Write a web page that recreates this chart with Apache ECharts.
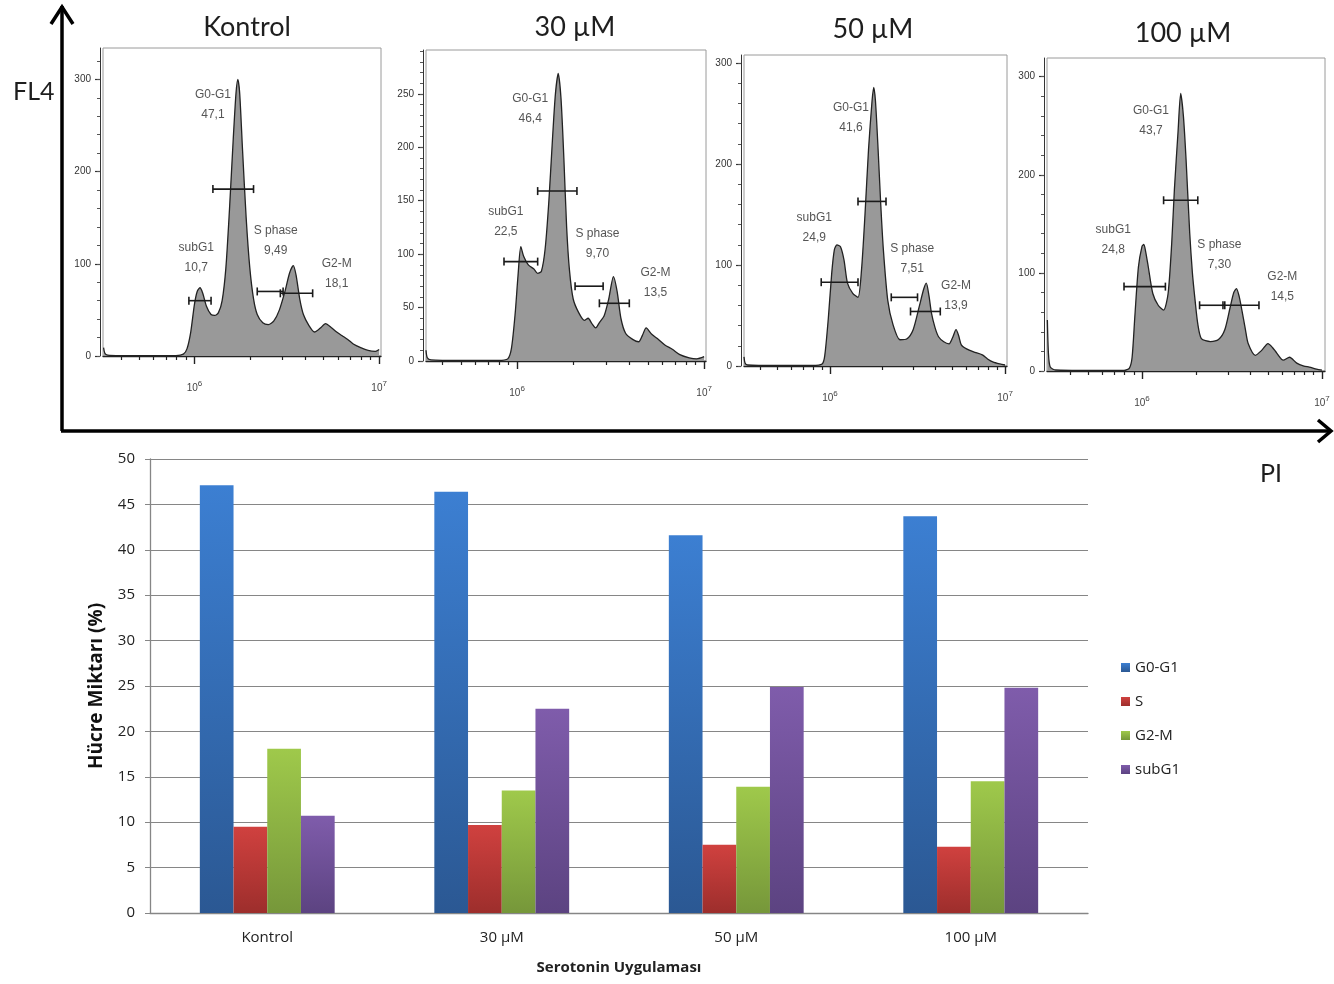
<!DOCTYPE html>
<html><head><meta charset="utf-8">
<script src="https://cdn.jsdelivr.net/npm/echarts@6.0.0/dist/echarts.min.js"></script>
<style>html,body{margin:0;padding:0;background:#fff}#c{width:1334px;height:984px}</style>
</head><body><div id="c"></div>
<script>
// ---------------- DATA ----------------
const panelTitles = ['Kontrol', '30 µM', '50 µM', '100 µM'];
const barCategories = ['Kontrol', '30 µM', '50 µM', '100 µM'];
const phaseNames = ['G0-G1', 'S', 'G2-M', 'subG1'];
const g0g1 = [47.1, 46.4, 41.6, 43.7];
const sPhase = [9.49, 9.70, 7.51, 7.30];
const g2m = [18.1, 13.5, 13.9, 14.5];
const subG1 = [10.7, 22.5, 24.9, 24.8];

// histogram curves: [log10(PI), count]
const histKontrol = [[5.508,9],[5.515,3],[5.53,1],[5.6,0.5],[5.75,0.5],[5.9,0.5],[5.94,2],[5.96,8],[5.98,26],[6.0,56],[6.015,70],[6.03,74],[6.045,68],[6.065,54],[6.09,45],[6.11,44],[6.13,47],[6.15,60],[6.17,95],[6.19,160],[6.21,235],[6.225,285],[6.235,300],[6.245,285],[6.26,225],[6.28,150],[6.30,95],[6.32,62],[6.34,45],[6.37,36],[6.40,34],[6.43,38],[6.46,50],[6.49,70],[6.515,90],[6.535,98],[6.55,88],[6.57,62],[6.59,45],[6.62,33],[6.65,26],[6.68,30],[6.71,35],[6.74,31],[6.77,26],[6.80,22],[6.83,18],[6.86,13],[6.90,9],[6.94,6],[6.98,5],[7.0,7]];
const hist30 = [[5.513,10],[5.52,3],[5.54,1],[5.7,0.5],[5.9,0.5],[5.95,2],[5.97,12],[5.99,45],[6.005,80],[6.02,107],[6.035,98],[6.06,90],[6.09,86],[6.11,82],[6.13,84],[6.15,105],[6.17,150],[6.19,210],[6.205,250],[6.22,269],[6.235,245],[6.25,190],[6.265,125],[6.28,85],[6.30,58],[6.33,45],[6.36,38],[6.38,40],[6.40,35],[6.42,31],[6.44,36],[6.465,42],[6.49,58],[6.515,79],[6.535,65],[6.555,40],[6.58,26],[6.62,20],[6.65,18],[6.67,24],[6.69,31],[6.72,25],[6.75,21],[6.79,15],[6.83,11],[6.87,6],[6.92,3],[6.96,2],[7.0,4]];
const hist50 = [[5.509,9],[5.515,3],[5.53,1],[5.7,0.5],[5.9,0.5],[5.955,2],[5.97,10],[5.99,46],[6.01,92],[6.025,115],[6.04,120],[6.06,118],[6.08,105],[6.1,82],[6.13,72],[6.16,68],[6.18,95],[6.20,150],[6.22,214],[6.24,262],[6.25,276],[6.26,262],[6.275,214],[6.29,160],[6.305,115],[6.33,65],[6.36,41],[6.40,26],[6.44,27],[6.475,36],[6.51,59],[6.535,76],[6.55,82],[6.565,70],[6.58,52],[6.60,38],[6.62,29],[6.65,24],[6.68,22],[6.70,28],[6.72,36],[6.735,30],[6.75,21],[6.78,17],[6.82,14],[6.87,11],[6.90,7],[6.93,4],[6.97,2],[7.0,1]];
const hist100 = [[5.474,52],[5.48,18],[5.49,4],[5.52,1],[5.7,0.5],[5.9,0.5],[5.93,3],[5.945,14],[5.96,55],[5.98,106],[6.0,127],[6.01,129],[6.02,122],[6.035,106],[6.06,79],[6.09,67],[6.12,62],[6.145,79],[6.165,130],[6.18,185],[6.20,243],[6.215,283],[6.23,260],[6.245,215],[6.265,141],[6.28,100],[6.295,72],[6.31,48],[6.33,33],[6.38,30],[6.425,32],[6.46,42],[6.49,65],[6.51,80],[6.525,84],[6.54,76],[6.555,62],[6.575,42],[6.59,28],[6.63,16],[6.665,21],[6.70,28],[6.725,24],[6.75,18],[6.785,11],[6.82,14],[6.86,8],[6.9,5],[6.93,4],[6.97,2],[7.0,1]];

// gates: [lo, hi, level]  order: subG1, G0-G1, S, G2-M
const gatesKontrol = [[5.97,6.09,60],[6.10,6.32,181],[6.34,6.48,70],[6.465,6.64,68]];
const gates30 = [[5.93,6.11,93],[6.11,6.32,159],[6.31,6.46,70],[6.44,6.60,54]];
const gates50 = [[5.95,6.16,83],[6.16,6.32,163],[6.35,6.50,68],[6.46,6.63,54]];
const gates100 = [[5.90,6.13,86],[6.12,6.31,174],[6.32,6.46,67],[6.45,6.65,67]];

const gateNames = ['subG1', 'G0-G1', 'S phase', 'G2-M'];

// ---------------- LAYOUT ----------------
const panels = [
  {hist: histKontrol, gates: gatesKontrol, idx: 0, left:103, top:48, width:278, height:308, xMin:5.505, xMax:7.01, yMax:334, yStep:100, yMinor:20, tx:247, ty:27,
   labelPos: [[6.01,107],[6.10,272],[6.44,125],[6.77,89]]},
  {hist: hist30, gates: gates30, idx: 1, left:426, top:50, width:280, height:311, xMin:5.513, xMax:7.01, yMax:291, yStep:50, yMinor:10, tx:575, ty:27,
   labelPos: [[5.94,130],[6.07,236],[6.43,110],[6.74,73]]},
  {hist: hist50, gates: gates50, idx: 2, left:744, top:55, width:263, height:311, xMin:5.509, xMax:7.011, yMax:308, yStep:100, yMinor:20, tx:873, ty:29,
   labelPos: [[5.91,137],[6.12,246],[6.47,106],[6.72,70]]},
  {hist: hist100, gates: gates100, idx: 3, left:1047, top:58, width:278, height:313, xMin:5.472, xMax:7.017, yMax:319, yStep:100, yMinor:20, tx:1183, ty:33,
   labelPos: [[5.84,134],[6.05,255],[6.43,119],[6.78,86]]}
];
const pctByGate = [subG1, g0g1, sPhase, g2m];
const fmtPct = v => v.toPrecision(3).replace('.', ',');

const xMinorTicks = [];
[4,5,6,7,8,9].forEach(k => xMinorTicks.push(Math.log10(k * 1e5)));
[2,3,4,5,6,7,8,9].forEach(k => xMinorTicks.push(Math.log10(k * 1e6)));

const histFont = 'Liberation Sans, Arial, sans-serif';
const grids = [], xAxes = [], yAxes = [], series = [], graphics = [];

panels.forEach((p, i) => {
  grids.push({left: p.left, top: p.top, width: p.width, height: p.height, show: true, borderColor: '#9a9a9a', borderWidth: 1, backgroundColor: '#fff', containLabel: false, outerBoundsMode: 'none'});
  const majY = [], minY = [];
  for (let v = 0; v <= p.yMax; v += p.yStep) majY.push(v);
  for (let v = 0; v <= p.yMax; v += p.yMinor) minY.push(v);
  xAxes.push({gridIndex: i, type: 'value', position: 'bottom', min: p.xMin, max: p.xMax,
    axisLine: {show: true, onZero: false, lineStyle: {color: '#222', width: 1.4}},
    axisTick: {show: true, customValues: [6, 7], length: 8, lineStyle: {color: '#222', width: 1.4}},
    axisLabel: {show: true, customValues: [6, 7], margin: 24, color: '#444',
      formatter: v => '{b|10}{s|' + Math.round(v) + '}',
      rich: {b: {fontSize: 10, fontFamily: histFont, color: '#444'}, s: {fontSize: 8, fontFamily: histFont, color: '#444', padding: [0, 0, 8, 0]}}},
    splitLine: {show: false}});
  xAxes.push({gridIndex: i, type: 'value', position: 'bottom', min: p.xMin, max: p.xMax,
    axisLine: {show: false, onZero: false},
    axisTick: {show: true, customValues: xMinorTicks, length: 4, lineStyle: {color: '#222', width: 1.2}},
    axisLabel: {show: false}, splitLine: {show: false}});
  yAxes.push({gridIndex: i, type: 'value', position: 'left', min: 0, max: p.yMax, offset: 3,
    axisLine: {show: true, onZero: false, lineStyle: {color: '#333', width: 1}},
    axisTick: {show: true, customValues: majY, length: 5, lineStyle: {color: '#333', width: 1.2}},
    axisLabel: {show: true, customValues: majY, margin: 9, fontSize: 10, fontFamily: histFont, color: '#333'},
    splitLine: {show: false}});
  yAxes.push({gridIndex: i, type: 'value', position: 'left', min: 0, max: p.yMax, offset: 3,
    axisLine: {show: false, onZero: false},
    axisTick: {show: true, customValues: minY, length: 3, lineStyle: {color: '#555', width: 1}},
    axisLabel: {show: false}, splitLine: {show: false}});

  series.push({type: 'line', xAxisIndex: 2 * i, yAxisIndex: 2 * i, data: p.hist, smooth: 0.25, showSymbol: false, silent: true,
    lineStyle: {color: '#222', width: 1.3}, areaStyle: {color: '#999999', opacity: 1}, z: 2});
  series.push({type: 'custom', xAxisIndex: 2 * i, yAxisIndex: 2 * i, data: p.gates, encode: {x: [0, 1], y: 2}, silent: true, z: 4,
    renderItem: (params, api) => {
      const a = api.coord([api.value(0), api.value(2)]);
      const b = api.coord([api.value(1), api.value(2)]);
      const st = {stroke: '#1a1a1a', lineWidth: 1.6};
      return {type: 'group', children: [
        {type: 'line', shape: {x1: a[0], y1: a[1], x2: b[0], y2: b[1]}, style: st},
        {type: 'line', shape: {x1: a[0], y1: a[1] - 4, x2: a[0], y2: a[1] + 4}, style: st},
        {type: 'line', shape: {x1: b[0], y1: b[1] - 4, x2: b[0], y2: b[1] + 4}, style: st}
      ]};
    }});
  const texts = gateNames.map((n, k) => n + '\n' + fmtPct(pctByGate[k][p.idx]));
  series.push({type: 'custom', xAxisIndex: 2 * i, yAxisIndex: 2 * i, data: p.labelPos, encode: {x: 0, y: 1}, silent: true, z: 5,
    renderItem: (params, api) => {
      const c = api.coord([api.value(0), api.value(1)]);
      return {type: 'text', x: c[0], y: c[1], style: {text: texts[params.dataIndex], fill: '#555', font: '12px ' + histFont, align: 'center', verticalAlign: 'middle', lineHeight: 20}};
    }});
  graphics.push({type: 'text', x: p.tx, y: p.ty, style: {text: panelTitles[i], fill: '#1e1e1e', font: '27px Lato, sans-serif', align: 'center', verticalAlign: 'middle'}});
});

// ---------------- BAR CHART ----------------
const barFont = '"Open Sans", sans-serif';
grids.push({left: 150, top: 459, width: 938, height: 454, containLabel: false, outerBoundsMode: 'none'});
xAxes.push({gridIndex: 4, type: 'category', data: barCategories, position: 'bottom',
  axisLine: {show: true, lineStyle: {color: '#868686', width: 1.3}}, axisTick: {show: false},
  axisLabel: {fontSize: 15, fontFamily: barFont, color: '#222', margin: 17},
  name: 'Serotonin Uygulaması', nameLocation: 'middle', nameGap: 47,
  nameTextStyle: {fontSize: 15, fontWeight: 'bold', fontFamily: barFont, color: '#222'}});
yAxes.push({gridIndex: 4, type: 'value', min: 0, max: 50, interval: 5, position: 'left',
  axisLine: {show: true, lineStyle: {color: '#868686', width: 1.3}},
  axisTick: {show: true, length: 5, lineStyle: {color: '#868686'}},
  axisLabel: {fontSize: 15, fontFamily: barFont, color: '#222', margin: 15},
  splitLine: {show: true, lineStyle: {color: '#868686', width: 1}},
  name: 'Hücre Miktarı (%)', nameLocation: 'middle', nameGap: 44, nameRotate: 90,
  nameTextStyle: {fontSize: 19, fontWeight: 'bold', fontFamily: barFont, color: '#111'}});

const barColors = [['#3c7fd2', '#2b5893'], ['#d0413f', '#9d2e2c'], ['#9fc94b', '#76973a'], ['#7f5cab', '#5c4381']];
const barData = [g0g1, sPhase, g2m, subG1];
barData.forEach((d, k) => {
  series.push({type: 'bar', name: phaseNames[k], xAxisIndex: 8, yAxisIndex: 8, data: d,
    barGap: '0%', barCategoryGap: '42.5%',
    itemStyle: {color: new echarts.graphic.LinearGradient(0, 0, 0, 1, [{offset: 0, color: barColors[k][0]}, {offset: 1, color: barColors[k][1]}])}});
});

// ---------------- DECORATION: big axes arrows ----------------
graphics.push({type: 'polyline', shape: {points: [[62, 431], [62, 6]]}, style: {stroke: '#000', lineWidth: 3.5, fill: null}});
graphics.push({type: 'polyline', shape: {points: [[51, 24], [62, 7], [73, 24]]}, style: {stroke: '#000', lineWidth: 3.5, fill: null}});
graphics.push({type: 'polyline', shape: {points: [[61, 431], [1330, 431]]}, style: {stroke: '#000', lineWidth: 3.5, fill: null}});
graphics.push({type: 'polyline', shape: {points: [[1318, 420], [1331, 431], [1318, 442]]}, style: {stroke: '#000', lineWidth: 3.5, fill: null}});
graphics.push({type: 'text', x: 13, y: 92, style: {text: 'FL4', fill: '#1e1e1e', font: '25px Lato, sans-serif', align: 'left', verticalAlign: 'middle'}});
graphics.push({type: 'text', x: 1271, y: 474, style: {text: 'PI', fill: '#1e1e1e', font: '25px Lato, sans-serif', align: 'center', verticalAlign: 'middle'}});

const chart = echarts.init(document.getElementById('c'), null, {renderer: 'canvas'});
chart.setOption({
  backgroundColor: '#fff',
  animation: false,
  grid: grids, xAxis: xAxes, yAxis: yAxes, series: series,
  legend: {data: phaseNames, orient: 'vertical', left: 1116, top: 655, itemWidth: 9, itemHeight: 9, itemGap: 19, icon: 'rect',
    textStyle: {fontSize: 15, fontFamily: barFont, color: '#222'}},
  graphic: graphics
});
</script></body></html>
